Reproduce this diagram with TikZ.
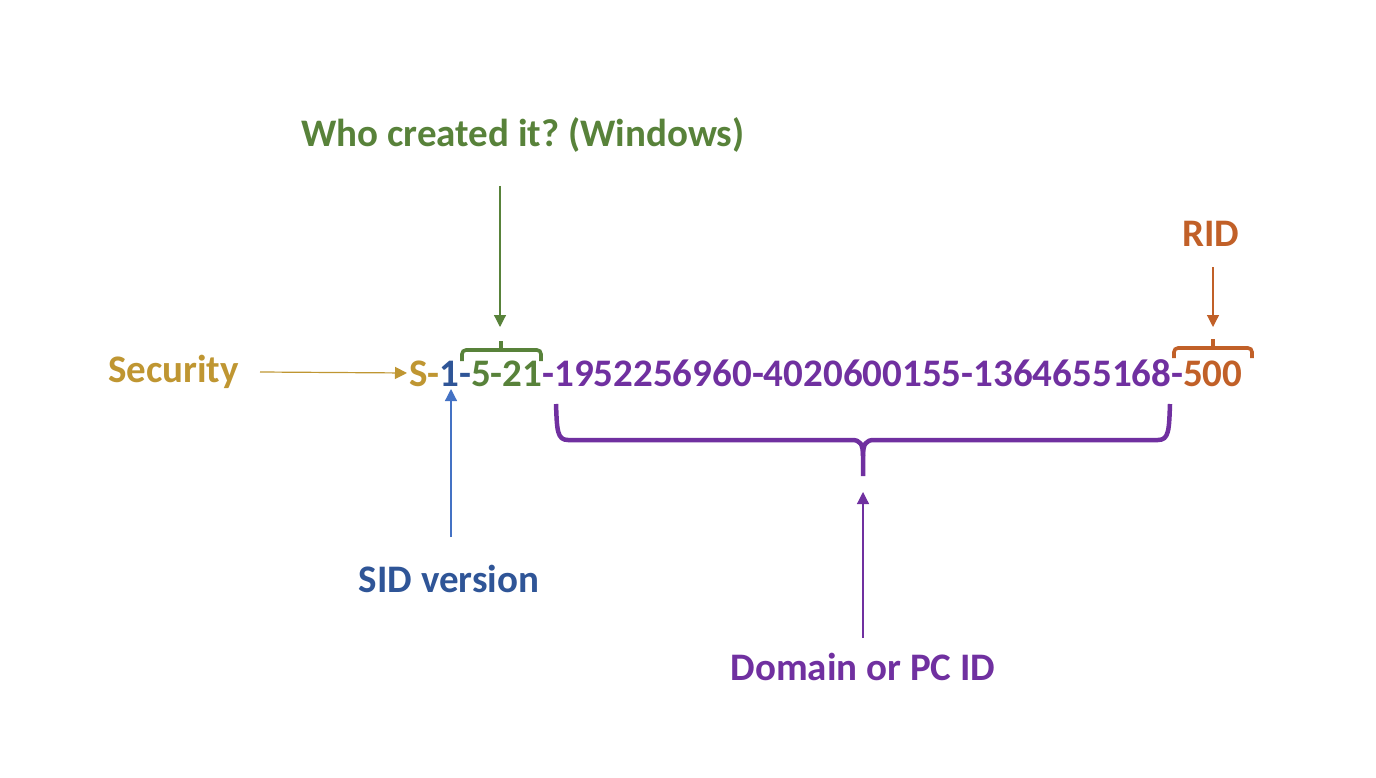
\documentclass[tikz,border=0pt]{standalone}
\usepackage{fontspec}
\setmainfont{Carlito}
\frenchspacing
\usetikzlibrary{arrows.meta}
\definecolor{secgold}{RGB}{191,150,50}
\definecolor{wingreen}{RGB}{88,130,58}
\definecolor{sidblue}{RGB}{47,85,151}
\definecolor{arrowblue}{RGB}{68,114,196}
\definecolor{ridor}{RGB}{193,96,40}
\definecolor{purp}{RGB}{112,48,160}
\tikzset{
  lbl/.style={inner sep=0pt, anchor=base, font=\fontsize{39}{44}\selectfont\bfseries},
  ptr/.style={line width=1.2pt, -{Triangle[length=12pt,width=12pt]}},
  brc/.style={line width=3.6pt, rounded corners=4pt, line cap=butt},
}
\begin{document}
\begin{tikzpicture}[x=1pt,y=-1pt]
\useasboundingbox (0,0) rectangle (1376,778);
% main SID string
\node[lbl, anchor=base west] (sid) at (409,386)
  {{\color{secgold}S-}{\color{sidblue}1-}{\color{wingreen}5-21}{\color{purp}-1952256960-4020600155-1364655168-}{\color{ridor}500}};
% labels
\node[lbl, anchor=base west, text=secgold] (sec) at (108,382) {Security};
\node[lbl, text=wingreen] (who) at (523,147) {Who created it? (Windows)};
\node[lbl, text=ridor] (rid) at (1211,247) {RID};
\node[lbl, text=sidblue] (ver) at (449,592) {SID version};
\node[lbl, text=purp] (dom) at (863,680) {Domain or PC ID};
% anchor coordinates
\coordinate (secS) at (260,372);
\coordinate (secE) at (407,373);
\coordinate (verS) at (451,537);
\coordinate (verE) at (451,389);
\coordinate (whoS) at (500,186);
\coordinate (whoE) at (500,327);
\coordinate (ridS) at (1213,267);
\coordinate (ridE) at (1213,327);
\coordinate (domS) at (863,638);
\coordinate (domE) at (863,492);
% arrows
\draw[ptr, secgold] (secS) -- (secE);
\draw[ptr, arrowblue] (verS) -- (verE);
\draw[ptr, wingreen] (whoS) -- (whoE);
\draw[ptr, ridor] (ridS) -- (ridE);
\draw[ptr, purp] (domS) -- (domE);
% green brace
\draw[brc, wingreen] (462,361) -- (462,350) -- (541,350) -- (541,361);
\draw[wingreen, line width=3.6pt] (501,350) -- (501,341);
% orange brace
\draw[brc, ridor] (1174,358) -- (1174,348) -- (1252,348) -- (1252,358);
\draw[ridor, line width=3.6pt] (1213,348) -- (1213,339);
% purple brace
\draw[purp, line width=4.5pt, line join=round]
  (556,404) .. controls (557,430) and (557,440) .. (568,440) -- (852,440)
  .. controls (860,440) and (863,444) .. (863,456) -- (863,476);
\draw[purp, line width=4.5pt, line join=round]
  (1170,404) .. controls (1169,430) and (1169,440) .. (1158,440) -- (874,440)
  .. controls (866,440) and (863,444) .. (863,456);
\end{tikzpicture}
\end{document}
